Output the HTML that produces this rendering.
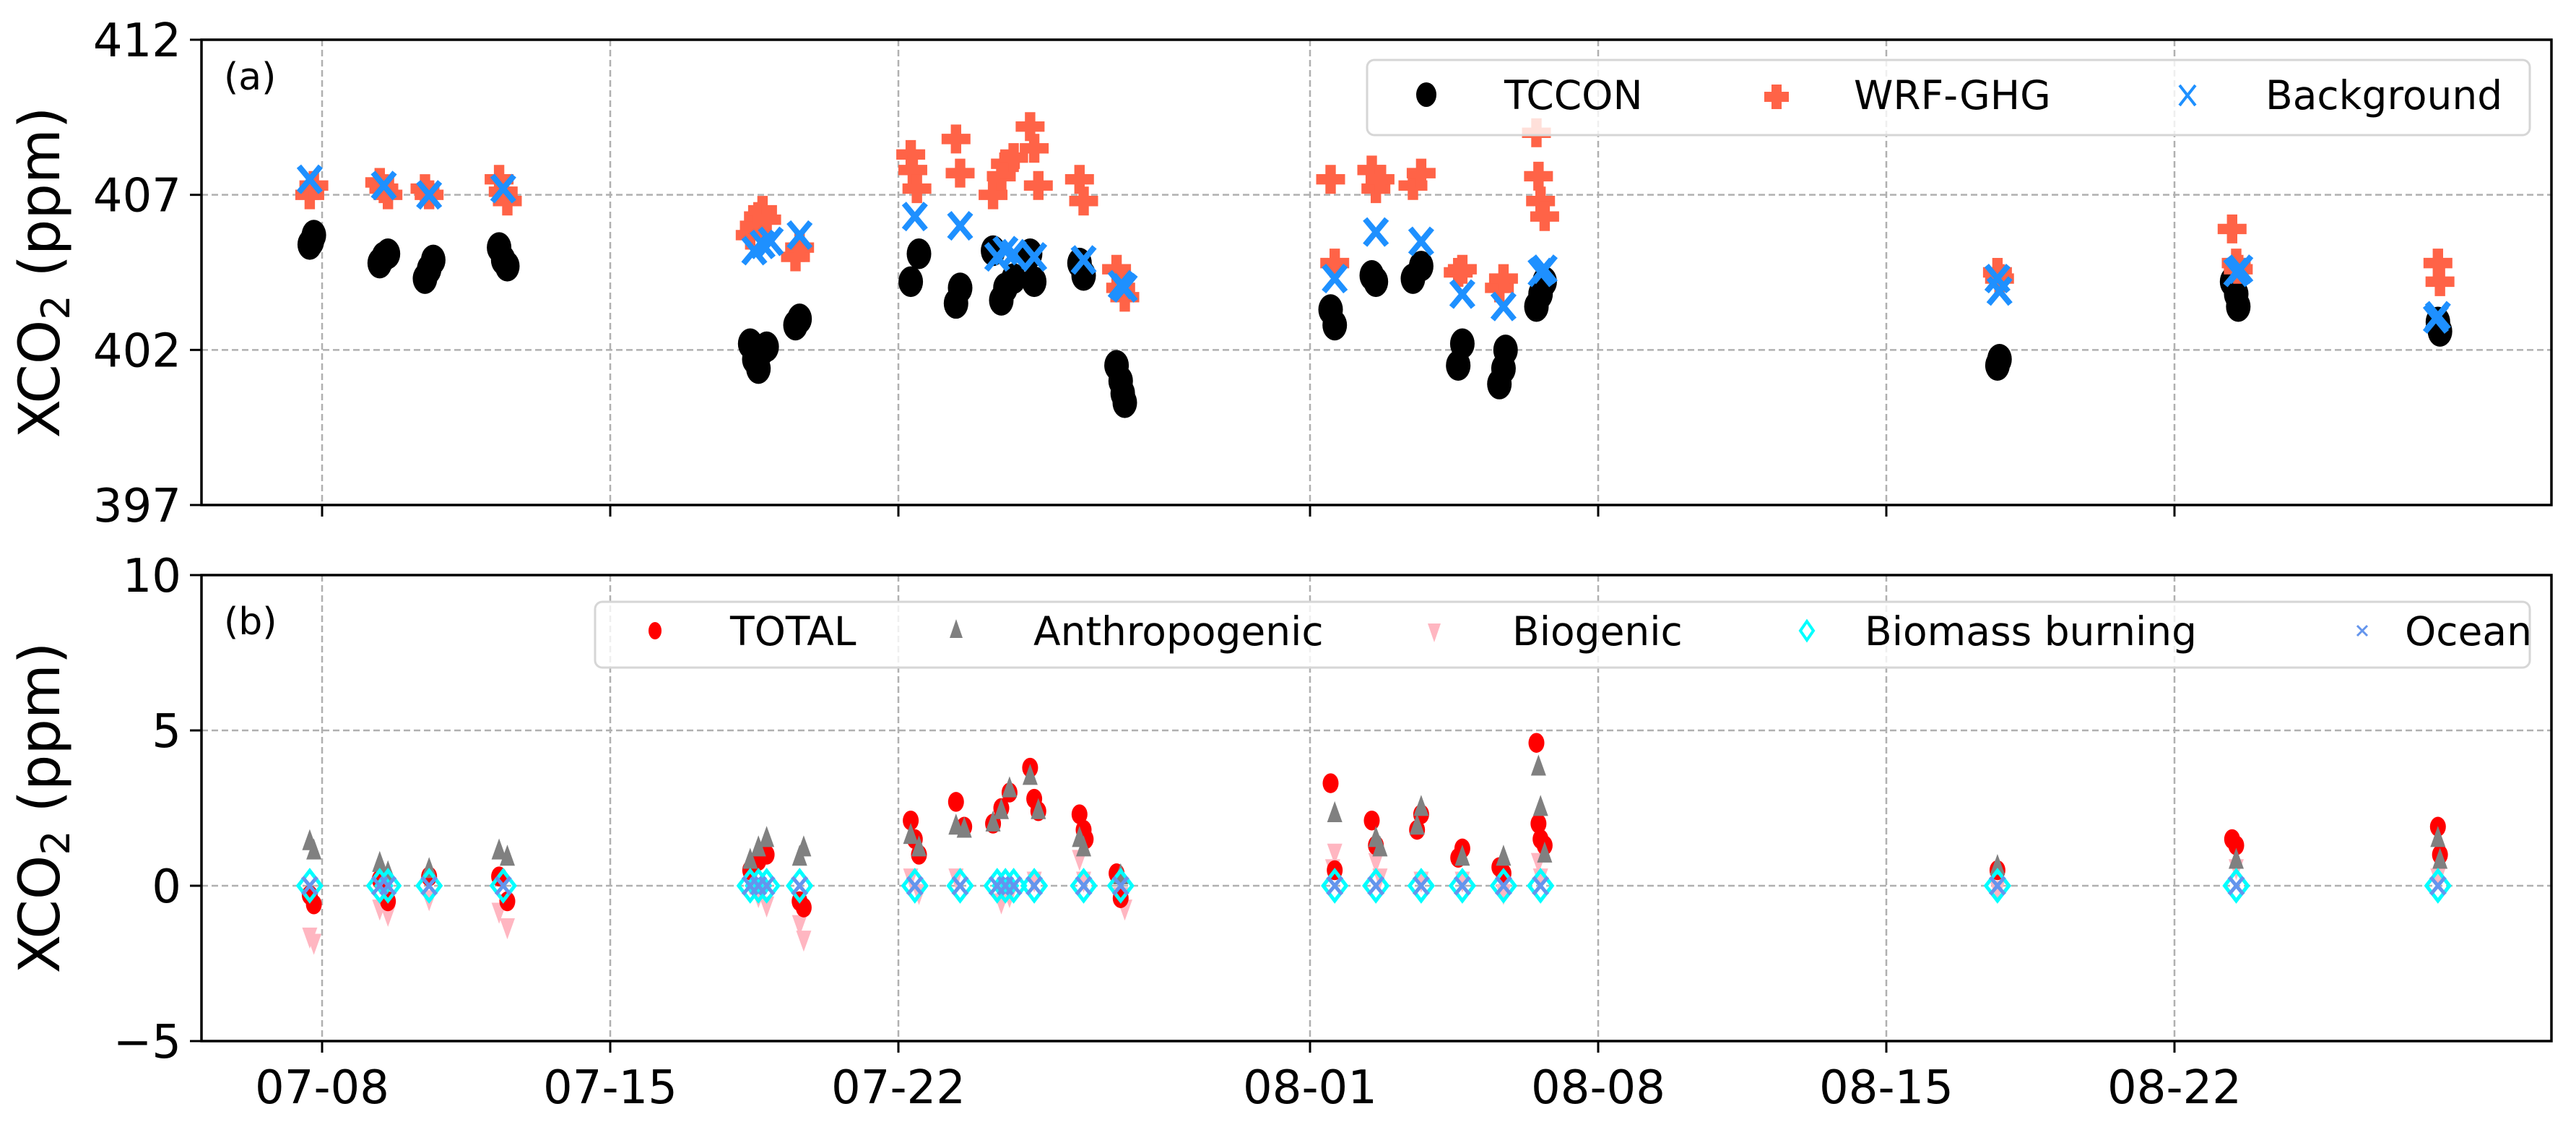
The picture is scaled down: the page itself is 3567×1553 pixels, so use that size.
<!DOCTYPE html>
<html><head><meta charset="utf-8">
<style>
html,body{margin:0;padding:0;background:#fff;}
svg{display:block;font-family:"DejaVu Sans","Liberation Sans",sans-serif;}
</style></head>
<body>
<svg id="chart" width="3567" height="1553" viewBox="0 0 3567 1553" xmlns="http://www.w3.org/2000/svg">
<g id="grid"></g>
<g id="marks"></g>
<g id="axes"></g>
</svg>
<script>
// x = days since 07-01 (07-08 = 7, 08-01 = 31)
const xTickDays = [7, 14, 21, 31, 38, 45, 52];
const xTickLabels = ["07-08", "07-15", "07-22", "08-01", "08-08", "08-15", "08-22"];
const yTicksA = [397, 402, 407, 412];
const yTicksB = [-5, 0, 5, 10];

const tcconX = [6.7,6.8,6.75, 8.4,8.5,8.6, 9.5,9.6,9.7, 11.3,11.4,11.5, 17.4,17.5,17.6,17.7,17.8, 18.5,18.6, 21.3,21.5, 22.4,22.5, 23.3,23.5,23.6,23.8, 24.2,24.3, 25.4,25.5, 26.3,26.4,26.45,26.5, 31.5,31.6, 32.5,32.6, 33.5,33.7, 34.6,34.7, 35.6,35.7,35.75, 36.5,36.6,36.7, 47.7,47.75, 53.4,53.5,53.55, 58.4,58.45];
const tcconY = [405.4,405.7,405.5, 404.8,405.0,405.1, 404.3,404.6,404.9, 405.3,404.9,404.7, 402.2,401.7,401.4,402.0,402.1, 402.8,403.0, 404.2,405.1, 403.5,404.0, 405.2,403.6,404.0,404.3, 405.1,404.2, 404.8,404.4, 401.5,401.0,400.6,400.3, 403.3,402.8, 404.4,404.2, 404.3,404.7, 401.5,402.2, 400.9,401.4,402.0, 403.4,403.8,404.2, 401.5,401.7, 404.2,403.8,403.4, 402.9,402.6];

const wrfX = [6.7,6.8, 8.4,8.5,8.6, 9.5,9.6, 11.3,11.4,11.5, 17.4,17.5,17.6,17.7,17.8, 18.5,18.6, 21.3,21.35,21.45, 22.4,22.5, 23.3,23.5,23.6,23.8, 24.2,24.3,24.4, 25.4,25.5, 26.3,26.4,26.5, 31.5,31.6, 32.5,32.6,32.7, 33.5,33.7, 34.6,34.7, 35.6,35.7, 36.5,36.55,36.6,36.7, 47.7,47.75, 53.4,53.5,53.55, 58.4,58.45];
const wrfY = [407.0,407.3, 407.4,407.2,407.0, 407.2,407.0, 407.5,407.1,406.8, 405.7,406.0,406.3,406.5,406.2, 405.0,405.3, 408.3,407.8,407.2, 408.8,407.7, 407.0,407.6,408.0,408.2, 409.2,408.5,407.3, 407.5,406.8, 404.6,404.0,403.7, 407.5,404.8, 407.8,407.2,407.5, 407.3,407.7, 404.5,404.6, 404.0,404.3, 409.0,407.6,406.8,406.3, 404.5,404.3, 405.9,404.8,404.6, 404.8,404.2];

const bgX = [6.7, 8.5, 9.6, 11.4, 17.5,17.7,17.9, 18.6, 21.4, 22.5, 23.4,23.6,23.8, 24.3, 25.5, 26.4,26.5, 31.6, 32.6, 33.7, 34.7, 35.7, 36.6,36.7, 47.7,47.75, 53.5,53.6, 58.4,58.35];
const bgY = [407.5, 407.3, 407.0, 407.2, 405.2,405.4,405.5, 405.7, 406.3, 406.0, 405.0,405.2,405.1, 405.0, 404.9, 404.1,404.0, 404.3, 405.8, 405.5, 403.8, 403.4, 404.5,404.6, 404.3,403.9, 404.5,404.6, 403.1,403.0];

const totalX = [6.7,6.8, 8.4,8.6, 9.6, 11.3,11.5, 17.4,17.6,17.8, 18.6,18.7, 21.3,21.4,21.5, 22.4,22.6, 23.3,23.5,23.7, 24.2,24.3,24.4, 25.4,25.5,25.55, 26.3,26.4, 31.5,31.6, 32.5,32.6, 33.6,33.7, 34.6,34.7, 35.6,35.7, 36.5,36.55,36.6,36.7, 47.7, 53.4,53.5, 58.4,58.45];
const totalY = [-0.3,-0.6, 0.2,-0.5, 0.3, 0.3,-0.5, 0.5,0.8,1.0, -0.5,-0.7, 2.1,1.5,1.0, 2.7,1.9, 2.0,2.5,3.0, 3.8,2.8,2.4, 2.3,1.8,1.5, 0.4,-0.4, 3.3,0.5, 2.1,1.3, 1.8,2.3, 0.9,1.2, 0.6,0.4, 4.6,2.0,1.5,1.3, 0.5, 1.5,1.3, 1.9,1.0];

const anthroX = [6.7,6.8, 8.4,8.6, 9.6, 11.3,11.5, 17.4,17.6,17.8, 18.6,18.7, 21.3,21.5, 22.4,22.6, 23.3,23.5,23.7, 24.2,24.4, 25.4,25.5, 26.4, 31.6, 32.6,32.7, 33.6,33.7, 34.7, 35.7, 36.55,36.6,36.7, 47.7, 53.5, 58.4,58.45];
const anthroY = [1.4,1.1, 0.7,0.4, 0.5, 1.1,0.9, 0.8,1.2,1.5, 0.9,1.2, 1.6,1.2, 1.9,1.8, 2.0,2.4,3.1, 3.5,2.4, 1.5,1.2, 0.3, 2.3, 1.5,1.2, 1.9,2.5, 0.9, 0.9, 3.8,2.5,1.0, 0.6, 0.8, 1.5,0.8];

const bioX = [6.7,6.8, 8.4,8.6, 9.6, 11.3,11.5, 17.4,17.6,17.8, 18.6,18.7, 21.3,21.5, 22.4, 23.5,23.7, 24.3, 25.4,25.5, 26.4,26.5, 31.6,31.55, 32.6,32.7, 33.7, 34.7, 35.7, 36.55,36.6, 47.7, 53.5, 58.4];
const bioY = [-1.6,-1.8, -0.7,-0.9, -0.4, -0.8,-1.3, 0.1,-0.3,-0.6, -1.2,-1.7, 0.3,-0.2, 0.3, -0.5,-0.3, 0.2, 0.9,0.2, -0.3,-0.7, 1.1,0.6, 0.8,0.3, 0.2, 0.2, -0.2, 0.8,0.3, -0.1, 0.6, 0.3];

const burnX = [6.7, 8.4,8.6, 9.6, 11.4, 17.4,17.6,17.8, 18.6, 21.4, 22.5, 23.4,23.6,23.8, 24.3, 25.5, 26.4, 31.6, 32.6, 33.7, 34.7, 35.7, 36.6, 47.7, 53.5, 58.4];
const burnY = [0,0,0,0,0,0,0,0,0,0,0,0,0,0,0,0,0,0,0,0,0,0,0,0,0,0];
const oceanX = burnX.slice();
const oceanY = [0,0,0,0,0,0,0,0,0,0,0,0,0,0,0,0,0,0,0,0,0,0,0,0,0,0];

const NS = "http://www.w3.org/2000/svg";
const L = 279, R = 3533;
const pxDay = 57;
function xs(d){ return 446 + (d - 7) * pxDay; }
const A = {top: 55, bottom: 699, lo: 397, hi: 412};
const B = {top: 796, bottom: 1441, lo: -5, hi: 10};
function ya(v){ return A.bottom - (v - A.lo) / (A.hi - A.lo) * (A.bottom - A.top); }
function yb(v){ return B.bottom - (v - B.lo) / (B.hi - B.lo) * (B.bottom - B.top); }
function el(tag, attrs, parent){
  const e = document.createElementNS(NS, tag);
  for (const k in attrs) e.setAttribute(k, attrs[k]);
  parent.appendChild(e); return e;
}
const grid = document.getElementById('grid');
const marks = document.getElementById('marks');
const axes = document.getElementById('axes');

[A, B].forEach((P, pi) => {
  xTickDays.forEach(d => {
    const g = el('line', {x1: xs(d), x2: xs(d), y1: P.top, y2: P.bottom, stroke: '#b0b0b0', 'stroke-width': 2.5, 'stroke-dasharray': '9,5'}, grid);
    
    
  });
  const yt = pi === 0 ? yTicksA : yTicksB;
  const yf = pi === 0 ? ya : yb;
  yt.forEach(v => {
    const g = el('line', {x1: L, x2: R, y1: yf(v), y2: yf(v), stroke: '#b0b0b0', 'stroke-width': 2.5, 'stroke-dasharray': '9,5'}, grid);
    
    
  });
});

function circle(x, y, r, fill, name, parent){
  const c = el('ellipse', {cx: x, cy: y, rx: r, ry: r * 1.25, fill: fill}, parent);
  
  
}
function plus(x, y, s, fill, name, parent){
  const w = s * 0.36;
  const p = el('path', {d: `M${x-w},${y-s}h${2*w}v${s-w}h${s-w}v${2*w}h${-(s-w)}v${s-w}h${-2*w}v${-(s-w)}h${-(s-w)}v${-2*w}h${s-w}z`, fill: fill}, parent);
  
  
}
function cross(x, y, s, stroke, sw, name, parent){
  const p = el('path', {d: `M${x-s},${y-s*1.2}L${x+s},${y+s*1.2}M${x-s},${y+s*1.2}L${x+s},${y-s*1.2}`, stroke: stroke, 'stroke-width': sw, fill: 'none'}, parent);
  
  
}
function tri(x, y, s, fill, up, name, parent){
  const h = s * 1.3;
  const d = up ? `M${x},${y-h}L${x+s*0.75},${y+h*0.6}L${x-s*0.75},${y+h*0.6}z` : `M${x},${y+h}L${x+s*0.75},${y-h*0.6}L${x-s*0.75},${y-h*0.6}z`;
  const p = el('path', {d: d, fill: fill}, parent);
  
  
}
function diamond(x, y, s, stroke, name, parent){
  const p = el('path', {d: `M${x},${y-s*1.3}L${x+s},${y}L${x},${y+s*1.3}L${x-s},${y}z`, fill: 'none', stroke: stroke, 'stroke-width': 5}, parent);
  
  
}

tcconX.forEach((d, i) => circle(xs(d), ya(tcconY[i]), 17, '#000', 'tccon-point', marks));
wrfX.forEach((d, i) => plus(xs(d), ya(wrfY[i]), 20, '#ff6347', 'wrf-ghg-point', marks));
bgX.forEach((d, i) => cross(xs(d), ya(bgY[i]), 15, '#1e90ff', 8, 'background-point', marks));
bioX.forEach((d, i) => tri(xs(d), yb(bioY[i]), 14, '#ffb6c1', false, 'biogenic-point', marks));
totalX.forEach((d, i) => circle(xs(d), yb(totalY[i]), 11, '#ff0000', 'total-point', marks));
anthroX.forEach((d, i) => tri(xs(d), yb(anthroY[i]), 14, '#808080', true, 'anthropogenic-point', marks));
burnX.forEach((d, i) => diamond(xs(d), yb(burnY[i]), 16, '#00ffff', 'biomass-burning-point', marks));
oceanX.forEach((d, i) => cross(xs(d), yb(oceanY[i]), 10, '#6495ed', 5, 'ocean-point', marks));

[A, B].forEach((P, pi) => {
  const f = el('rect', {x: L, y: P.top, width: R - L, height: P.bottom - P.top, fill: 'none', stroke: '#000', 'stroke-width': 3.5}, axes);
  
  
  xTickDays.forEach((d, i) => {
    const t = el('line', {x1: xs(d), x2: xs(d), y1: P.bottom, y2: P.bottom + 16, stroke: '#000', 'stroke-width': 3}, axes);
    
    
    if (pi === 1) {
      const tx = el('text', {x: xs(d), y: 1527, 'font-size': 64, 'text-anchor': 'middle'}, axes);
      tx.textContent = xTickLabels[i];
      
      
    }
  });
  const yt = pi === 0 ? yTicksA : yTicksB;
  const yf = pi === 0 ? ya : yb;
  yt.forEach(v => {
    const t = el('line', {x1: L - 16, x2: L, y1: yf(v), y2: yf(v), stroke: '#000', 'stroke-width': 3}, axes);
    
    
    const tx = el('text', {x: L - 28, y: yf(v) + 23, 'font-size': 64, 'text-anchor': 'end'}, axes);
    tx.textContent = v < 0 ? '\u2212' + Math.abs(v) : String(v);
    
    
  });
});
</script>
<svg style="position:absolute;left:0;top:0" width="3567" height="1553" xmlns="http://www.w3.org/2000/svg" font-family="DejaVu Sans, Liberation Sans, sans-serif">
  <text x="310" y="124" font-size="52">(a)</text>
  <text x="310" y="878" font-size="52">(b)</text>
  <text transform="translate(82,377) rotate(-90)" font-size="78" text-anchor="middle">XCO<tspan font-size="54" dy="14">2</tspan><tspan dy="-14"> (ppm)</tspan></text>
  <text transform="translate(82,1118) rotate(-90)" font-size="78" text-anchor="middle">XCO<tspan font-size="54" dy="14">2</tspan><tspan dy="-14"> (ppm)</tspan></text>

  <g>
    <rect x="1893" y="83" width="1610" height="104" rx="10" fill="#fff" fill-opacity="0.8" stroke="#d6d6d6" stroke-width="3"/>
    <g>
      <ellipse cx="1975" cy="131" rx="14" ry="17" fill="#000"/>
      <text x="2083" y="151" font-size="55">TCCON</text>
    </g>
    <g>
      <path d="M2453,117h14v10h10v14h-10v10h-14v-10h-10v-14h10z" fill="#ff6347"/>
      <text x="2567" y="151" font-size="55">WRF-GHG</text>
    </g>
    <g>
      <path d="M3018,118L3040,146M3018,146L3040,118" stroke="#1e90ff" stroke-width="4"/>
      <text x="3137" y="151" font-size="55">Background</text>
    </g>
  </g>

  <g>
    <rect x="824" y="833" width="2679" height="91" rx="10" fill="#fff" fill-opacity="0.8" stroke="#d6d6d6" stroke-width="3"/>
    <g>
      <ellipse cx="907" cy="873" rx="9" ry="12" fill="#ff0000"/>
      <text x="1011" y="893" font-size="55">TOTAL</text>
    </g>
    <g>
      <path d="M1324,857L1333,883L1315,883z" fill="#808080"/>
      <text x="1431" y="893" font-size="55">Anthropogenic</text>
    </g>
    <g>
      <path d="M1986,889L1995,863L1977,863z" fill="#ffb6c1"/>
      <text x="2094" y="893" font-size="55">Biogenic</text>
    </g>
    <g>
      <path d="M2502,860L2511,873L2502,886L2493,873z" fill="none" stroke="#00ffff" stroke-width="4"/>
      <text x="2582" y="893" font-size="55">Biomass burning</text>
    </g>
    <g>
      <path d="M3264,866L3278,880M3264,880L3278,866" stroke="#6495ed" stroke-width="3"/>
      <text x="3330" y="893" font-size="55">Ocean</text>
    </g>
  </g>
</svg>
</body></html>
